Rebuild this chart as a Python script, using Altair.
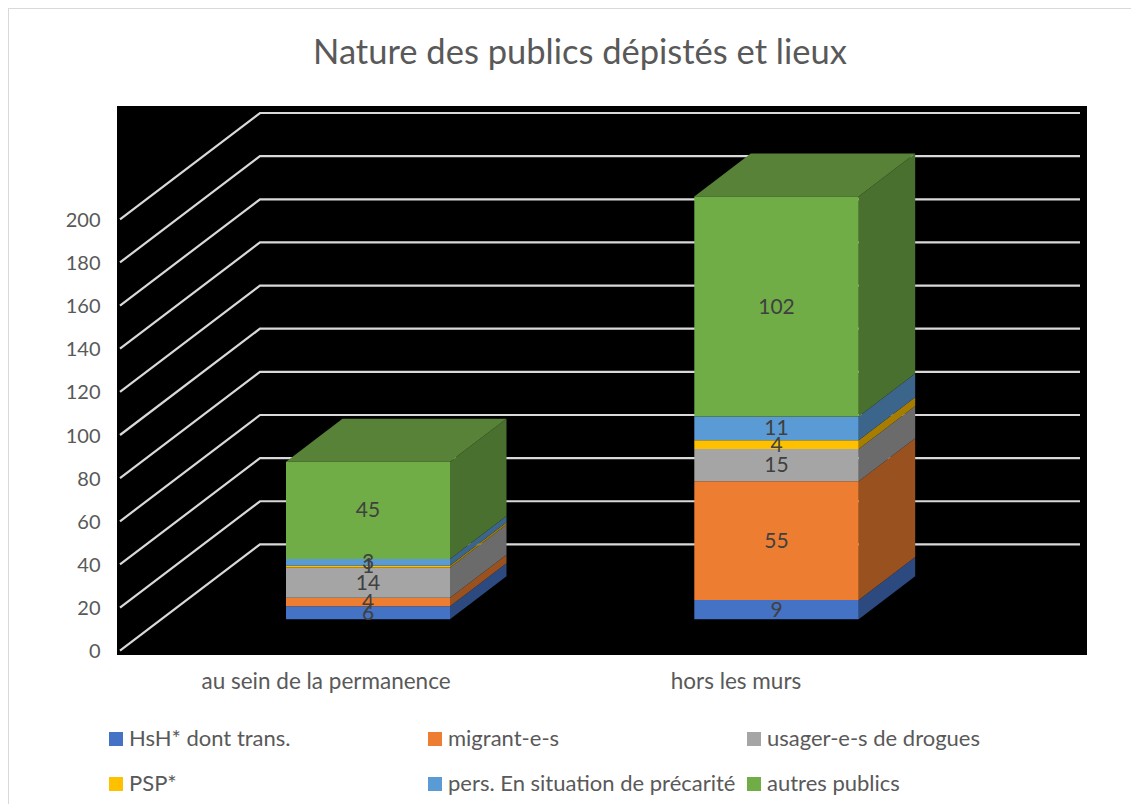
import altair as alt
import pandas as pd

# --- values ---
categories = ["au sein de la permanence", "hors les murs"]
series = ["HsH* dont trans.", "migrant-e-s", "usager-e-s de drogues", "PSP*",
          "pers. En situation de précarité", "autres publics"]
values_permanence = [6, 4, 14, 1, 3, 45]
values_hors_murs = [9, 55, 15, 4, 11, 102]
front_colors = ["#4472C4", "#ED7D31", "#A5A5A5", "#FFC000", "#5B9BD5", "#70AD47"]
side_colors = ["#2C4A7F", "#9A5120", "#6B6B6B", "#A67D00", "#3B658A", "#49702E"]
top_colors = ["#35599A", "#B9622A", "#818181", "#C79600", "#477AA7", "#578237"]
grid_values = list(range(0, 201, 20))

# --- oblique projection of the 3-D chart (x in plot units, y in value units) ---
PX = 2.157                     # pixels per value unit
X0, X1 = 117, 1087             # horizontal domain
Y0, Y1 = -(655 - 650.7) / PX, (650.7 - 106) / PX
WALL_LEFT, WALL_BACK, WALL_RIGHT = 120, 260, 1080
WALL_DV = 106.3 / PX
BAR_DX, BAR_DV = 56.5, 43 / PX
BASE = (650.7 - 619.3) / PX
BARS = [(286, 450), (694.3, 858.7)]
LABEL_X = [325.5, 735.5]
FRAME_LEFT, FRAME_RIGHT = 8, 1131
FRAME_TOP, FRAME_BOTTOM = (650.7 - 8) / PX, (650.7 - 804) / PX

grid = []
for v in grid_values:
    for x, y in [(WALL_LEFT, v), (WALL_BACK, v + WALL_DV), (WALL_RIGHT, v + WALL_DV)]:
        grid.append({"g": v, "x": x, "y": y})

frame = [
    {"x": FRAME_LEFT, "y": FRAME_BOTTOM},
    {"x": FRAME_LEFT, "y": FRAME_TOP},
    {"x": FRAME_RIGHT, "y": FRAME_TOP},
]

front, side, top = [], [], []
for b, vals in enumerate([values_permanence, values_hors_murs]):
    xl, xr = BARS[b]
    cum = BASE
    for i, v in enumerate(vals):
        lo, hi = cum, cum + v
        key = f"{b}-{i}"
        front.append({"serie": series[i], "x": xl, "x2": xr, "y": lo, "y2": hi,
                      "val": v, "xc": (xl + xr) / 2, "yc": (lo + hi) / 2})
        side.append({"key": key, "c": side_colors[i], "x": xr, "y": lo, "y2": hi})
        side.append({"key": key, "c": side_colors[i], "x": xr + BAR_DX, "y": lo + BAR_DV, "y2": hi + BAR_DV})
        cum = hi
    c = top_colors[-1]
    key = f"top{b}"
    top += [
        {"key": key, "c": c, "x": xl, "y": cum, "y2": cum},
        {"key": key, "c": c, "x": xl + BAR_DX, "y": cum, "y2": cum + BAR_DV},
        {"key": key, "c": c, "x": xr, "y": cum, "y2": cum + BAR_DV},
        {"key": key, "c": c, "x": xr + BAR_DX, "y": cum + BAR_DV, "y2": cum + BAR_DV},
    ]

label_expr = f"datum.value < 500 ? '{categories[0]}' : '{categories[1]}'"
FONT = "Lato"
GREY = "#595959"

xs = alt.Scale(domain=[X0, X1], nice=False, zero=False)
ys = alt.Scale(domain=[Y0, Y1], nice=False, zero=False)
x_enc = alt.X("x:Q", scale=xs, title=None, axis=alt.Axis(
    values=LABEL_X, labelExpr=label_expr, domain=False, ticks=False, grid=False,
    labelFontSize=22.5, labelColor=GREY, labelFont=FONT, labelPadding=15, labelFlush=False,
    labelLimit=400))
y_enc = alt.Y("y:Q", scale=ys, title=None, axis=alt.Axis(
    values=grid_values, domain=False, ticks=False, grid=False, format="d",
    labelFontSize=20, labelColor=GREY, labelFont=FONT, labelPadding=17, labelOffset=1))

plain_y = alt.Y("y:Q", scale=ys, title=None)
plain_x = alt.X("x:Q", scale=xs, title=None)

grid_layer = alt.Chart(pd.DataFrame(grid)).mark_line(
    color="#D9D9D9", strokeWidth=2.2, strokeJoin="miter", clip=False
).encode(x=x_enc, y=y_enc, detail="g:N")

frame_layer = alt.Chart(pd.DataFrame(frame)).mark_line(
    color="#D9D9D9", strokeWidth=2, strokeJoin="miter", clip=False, order=False
).encode(x=plain_x, y=plain_y)

side_layer = alt.Chart(pd.DataFrame(side)).mark_area(interpolate="linear").encode(
    x=plain_x, y=alt.Y("y:Q", scale=ys, title=None, stack=None), y2="y2:Q",
    color=alt.Color("c:N", scale=None), detail="key:N")

top_layer = alt.Chart(pd.DataFrame(top)).mark_area(interpolate="linear").encode(
    x=plain_x, y=alt.Y("y:Q", scale=ys, title=None, stack=None), y2="y2:Q",
    color=alt.Color("c:N", scale=None), detail="key:N")

front_df = pd.DataFrame(front)
front_layer = alt.Chart(front_df).mark_rect().encode(
    x=plain_x, x2="x2:Q", y=plain_y, y2="y2:Q",
    color=alt.Color("serie:N", title=None,
                    scale=alt.Scale(domain=series, range=front_colors),
                    sort=series,
                    legend=alt.Legend(
                        orient="none", legendX=-12, legendY=622, columns=3, direction="horizontal",
                        gridAlign="all", columnPadding=7, rowPadding=23,
                        symbolType="square", symbolSize=196, symbolStrokeWidth=0,
                        labelFontSize=22, labelColor=GREY, labelFont=FONT,
                        labelOffset=2, labelLimit=400)))

text_layer = alt.Chart(front_df).mark_text(
    fontSize=21, color="#404040", font=FONT, baseline="middle", align="center", dy=1
).encode(x=alt.X("xc:Q", scale=xs, title=None), y=alt.Y("yc:Q", scale=ys, title=None), text="val:Q")

chart = alt.layer(frame_layer, grid_layer, side_layer, top_layer, front_layer, text_layer).properties(
    width=970, height=549,
    padding={"left": 109, "top": 98, "right": 44, "bottom": 149},
    autosize=alt.AutoSizeParams(type="none"),
    background="white",
    title=alt.TitleParams(
        "Nature des publics dépistés et lieux", anchor="middle", fontSize=34.5, font=FONT,
        fontWeight="normal", color=GREY, offset=-67, dx=-22),
).configure_view(fill="#000000", stroke=None)

chart.save("out.html", embed_options={"renderer": "svg", "actions": False})
